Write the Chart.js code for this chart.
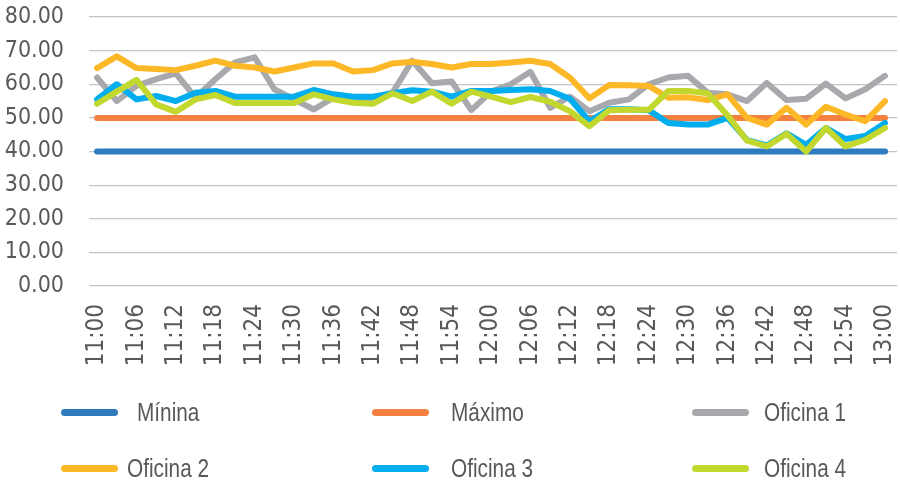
<!DOCTYPE html>
<html>
<head>
<meta charset="utf-8">
<script src="https://cdn.jsdelivr.net/npm/chart.js@4/dist/chart.umd.min.js"></script>
<style>
  html, body { margin: 0; padding: 0; background: #ffffff; }
  #wrap { position: relative; width: 900px; height: 487px; overflow: hidden; }
  #c { position: absolute; left: 0; top: 0; }
  .sw { position: absolute; height: 7px; width: 57px; border-radius: 4px; }
  .lt { position: absolute; font-family: "Liberation Sans", Arial, sans-serif;
        font-size: 26px; color: #595959; line-height: 30px; white-space: pre;
        transform: scaleX(0.8); transform-origin: 0 50%; }
</style>
</head>
<body>
<div id="wrap">
  <canvas id="c" width="900" height="487"></canvas>
  <div id="legend"></div>
</div>
<script>
// ---- data ----
const times = ['11:00','11:03','11:06','11:09','11:12','11:15','11:18','11:21','11:24','11:27',
               '11:30','11:33','11:36','11:39','11:42','11:45','11:48','11:51','11:54','11:57',
               '12:00','12:03','12:06','12:09','12:12','12:15','12:18','12:21','12:24','12:27',
               '12:30','12:33','12:36','12:39','12:42','12:45','12:48','12:51','12:54','12:57','13:00'];
const tickLabels = ['11:00','11:06','11:12','11:18','11:24','11:30','11:36','11:42','11:48','11:54',
                    '12:00','12:06','12:12','12:18','12:24','12:30','12:36','12:42','12:48','12:54','13:00'];
const seriesNames = ['Mínina', 'Máximo', 'Oficina 1', 'Oficina 2', 'Oficina 3', 'Oficina 4'];
const minima = [40,40,40,40,40,40,40,40,40,40,40,40,40,40,40,40,40,40,40,40,40,
                40,40,40,40,40,40,40,40,40,40,40,40,40,40,40,40,40,40,40,40];
const maximo = [50,50,50,50,50,50,50,50,50,50,50,50,50,50,50,50,50,50,50,50,50,
                50,50,50,50,50,50,50,50,50,50,50,50,50,50,50,50,50,50,50,50];
const oficina1 = [62.0,55.0,59.5,61.5,63.2,56.0,61.5,66.5,68.0,58.5,55.5,52.5,56.0,55.5,55.5,57.5,67.0,60.3,60.8,52.3,
                  57.8,60.0,63.7,53.0,56.3,52.0,54.5,55.5,60.0,62.0,62.5,57.5,57.0,55.0,60.4,55.3,55.7,60.2,55.8,58.5,62.5];
const oficina2 = [64.8,68.3,64.8,64.5,64.2,65.5,67.0,65.5,65.0,63.8,65.0,66.2,66.2,63.8,64.2,66.2,66.7,66.0,65.0,66.0,
                  66.0,66.5,67.0,66.0,62.0,55.8,59.8,59.7,59.5,56.0,56.1,55.3,57.0,50.0,48.0,53.0,48.0,53.3,51.0,49.0,55.0];
const oficina3 = [55.5,60.0,55.5,56.5,55.0,57.5,58.0,56.3,56.3,56.3,56.3,58.3,57.0,56.3,56.3,57.3,58.2,57.8,56.3,58.0,
                  58.0,58.3,58.5,58.0,55.7,49.0,52.6,52.6,52.3,48.5,48.0,48.0,50.0,43.4,41.8,45.4,42.0,47.0,43.7,44.6,48.5];
const oficina4 = [54.2,57.8,61.3,54.0,51.8,55.5,56.8,54.4,54.4,54.4,54.4,57.0,55.5,54.5,54.2,57.3,55.0,57.8,54.2,57.8,
                  56.3,54.7,56.2,54.8,52.0,47.5,52.3,52.4,52.4,58.0,58.0,57.3,50.8,43.2,41.5,45.3,40.0,47.0,41.5,43.5,47.0];
const yTicks = [0,10,20,30,40,50,60,70,80];

// ---- styling ----
const colors = ['#2E7BC0', '#F58140', '#A7A9AC', '#FDB827', '#00AEEF', '#C2D82E'];
const allSeries = [minima, maximo, oficina1, oficina2, oficina3, oficina4];
const FONT = '"DejaVu Sans Condensed", "DejaVu Sans", sans-serif';

const datasets = allSeries.map((arr, k) => ({
  label: seriesNames[k],
  data: arr.map((v, i) => ({ x: i, y: v })),
  borderColor: colors[k],
  backgroundColor: colors[k],
  borderWidth: 6,
  pointRadius: 0,
  tension: 0,
  fill: false,
  borderCapStyle: 'round',
  borderJoinStyle: 'round',
  order: allSeries.length - k
}));

const chart = new Chart(document.getElementById('c'), {
  type: 'line',
  data: { datasets },
  options: {
    responsive: false,
    animation: false,
    events: [],
    layout: { padding: { top: 17, right: 3, left: 0, bottom: 0 } },
    plugins: { legend: { display: false }, tooltip: { enabled: false } },
    scales: {
      x: {
        type: 'linear',
        min: -0.41,
        max: 40.61,
        grid: { display: false },
        border: { display: false },
        afterBuildTicks: (scale) => {
          scale.ticks = tickLabels.map(t => ({ value: times.indexOf(t) }));
        },
        afterFit: (scale) => {
          scale.height = 201;
          scale.paddingLeft = 0; scale.paddingRight = 0;
          scale.paddingTop = 0; scale.paddingBottom = 0;
        },
        ticks: {
          autoSkip: false,
          minRotation: 90,
          maxRotation: 90,
          padding: 10,
          color: '#595959',
          font: { family: FONT, size: 24 },
          callback: (v) => times[v]
        }
      },
      y: {
        min: 0,
        max: 80,
        afterBuildTicks: (scale) => { scale.ticks = yTicks.map(v => ({ value: v })); },
        afterFit: (scale) => {
          scale.width = 89;
          scale.paddingTop = 0; scale.paddingBottom = 0;
          scale.paddingLeft = 0; scale.paddingRight = 0;
        },
        grid: { color: '#c4c4c4', lineWidth: 1.2, drawTicks: false },
        border: { display: false },
        ticks: {
          autoSkip: false,
          padding: 25,
          color: '#595959',
          font: { family: FONT, size: 23 },
          callback: (v) => Number(v).toFixed(2)
        }
      }
    }
  }
});

// ---- HTML legend built from the chart's datasets ----
const legendPos = [
  { sx: 61,  tx: 137, y: 412 }, { sx: 372, tx: 451, y: 412 }, { sx: 692, tx: 764, y: 412 },
  { sx: 61,  tx: 127, y: 468 }, { sx: 372, tx: 451, y: 468 }, { sx: 692, tx: 764, y: 468 }
];
const legend = document.getElementById('legend');
chart.data.datasets.forEach((ds, k) => {
  const p = legendPos[k];
  const sw = document.createElement('div');
  sw.className = 'sw';
  sw.style.left = p.sx + 'px';
  sw.style.top = (p.y - 3.5) + 'px';
  sw.style.background = ds.borderColor;
  legend.appendChild(sw);
  const t = document.createElement('div');
  t.className = 'lt';
  t.style.left = p.tx + 'px';
  t.style.top = (p.y - 15) + 'px';
  t.textContent = ds.label;
  legend.appendChild(t);
});
</script>
</body>
</html>
